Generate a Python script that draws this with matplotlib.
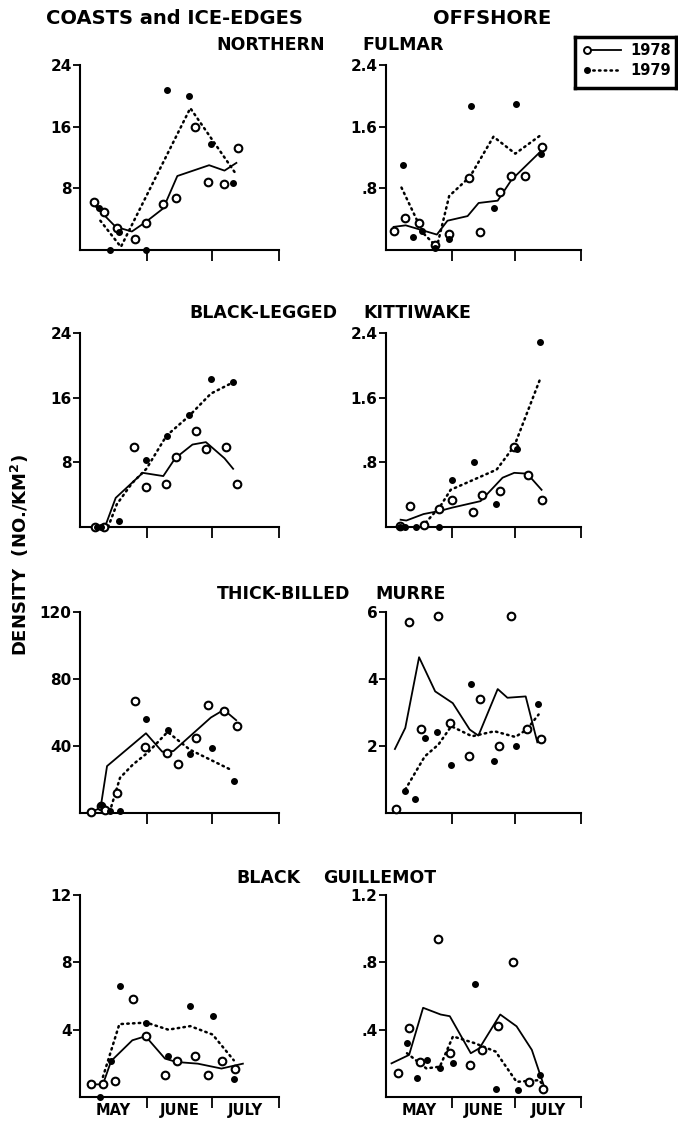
import matplotlib
matplotlib.use("Agg")
import matplotlib.pyplot as plt
from matplotlib.ticker import FixedLocator

plt.rcParams['font.family'] = ['DejaVu Sans']
plt.rcParams['font.weight'] = 'bold'

# x = days after 30 April; ticks mark 1 June, 1 July, 1 August
month_ticks = [31, 61, 92]
month_mid = [15.5, 46, 76.5]
month_names = ['MAY', 'JUNE', 'JULY']

# ---- NORTHERN FULMAR ----
fulmar_coast_78 = [(6.3, 6.2), (11, 4.9), (17.3, 2.9), (25.2, 1.4), (30.7, 3.5), (38.5, 6.0),
                   (44.5, 6.8), (53, 15.9), (59.4, 8.8), (66.4, 8.5), (73.1, 13.2)]
fulmar_coast_78_line = [(6, 6.0), (16.5, 3.0), (24, 2.4), (30.7, 3.7), (38.5, 5.4), (45, 9.6),
                        (59.7, 11.0), (66.8, 10.3), (72.3, 11.3)]
fulmar_coast_79 = [(9, 5.4), (13.7, 0), (18, 2.3), (30.7, 0), (40, 20.8), (50.3, 20.0),
                   (60.5, 13.8), (70.8, 8.7)]
fulmar_coast_79_line = [(9.4, 3.8), (18.9, 0.4), (51, 18.4), (72, 9.9)]

fulmar_off_78 = [(3.6, 0.25), (8.8, 0.42), (15.5, 0.35), (23.2, 0.06), (29.5, 0.21), (39.3, 0.93),
                 (44.2, 0.23), (53.8, 0.75), (58.8, 0.96), (65.8, 0.96), (73.6, 1.33)]
fulmar_off_78_line = [(3.6, 0.30), (9.3, 0.32), (16.7, 0.26), (24, 0.20), (29, 0.38), (38.5, 0.44),
                      (43.7, 0.61), (52.7, 0.64), (59.2, 0.91), (73, 1.28)]
fulmar_off_79 = [(7.9, 1.10), (12.8, 0.17), (17, 0.25), (23.2, 0.03), (29.8, 0.14), (40, 1.87),
                 (51, 0.55), (61.2, 1.90), (73.2, 1.25)]
fulmar_off_79_line = [(7.3, 0.81), (17.5, 0.22), (24, 0.04), (29.8, 0.70), (39.6, 0.95),
                      (50.7, 1.47), (61, 1.25), (73.5, 1.50)]

# ---- BLACK-LEGGED KITTIWAKE ----
kitti_coast_78 = [(6.8, 0), (11, 0), (24.8, 9.9), (30.3, 4.9), (39.6, 5.3), (44.3, 8.6),
                  (53.5, 11.9), (58.2, 9.7), (67.3, 9.9), (72.8, 5.3)]
kitti_coast_78_line = [(6.3, 0), (11.8, 0.2), (16.5, 3.6), (29, 6.7), (38.5, 6.3), (44, 8.5),
                       (52, 10.2), (58.2, 10.5), (66.8, 8.5), (70.8, 7.2)]
kitti_coast_79 = [(7.9, 0), (9.5, 0), (18, 0.8), (30.3, 8.3), (40, 11.3), (50.3, 13.9),
                  (60.5, 18.3), (70.8, 17.9)]
kitti_coast_79_line = [(13, 0), (17, 2.8), (24, 5.4), (30.7, 7.2), (40, 11.3), (50.3, 13.7),
                       (60.5, 16.5), (70.8, 17.9)]

kitti_off_78 = [(6.4, 0.01), (11.2, 0.26), (17.7, 0.03), (25.2, 0.22), (31.3, 0.34), (40.9, 0.19),
                (45.4, 0.40), (53.8, 0.45), (60.2, 0.99), (66.9, 0.64), (73.8, 0.34)]
kitti_off_78_line = [(6.9, 0.09), (9.6, 0.08), (17.7, 0.16), (25.5, 0.20), (31.3, 0.24),
                     (44.6, 0.32), (55, 0.61), (60.5, 0.67), (66.6, 0.66), (73.4, 0.46)]
kitti_off_79 = [(6.4, 0), (8.8, 0), (14, 0), (24.9, 0), (31.3, 0.58), (41.4, 0.80),
                (51.7, 0.28), (61.8, 0.96), (72.7, 2.29)]
kitti_off_79_line = [(16.9, 0), (25.7, 0.26), (30.5, 0.46), (52.2, 0.71), (60.5, 1.0), (72.7, 1.83)]

# ---- THICK-BILLED MURRE ----
murre_coast_78 = [(5.3, 0.6), (9.5, 4), (11.7, 2), (17, 12), (25.2, 67), (30.2, 39.4), (40, 35.6),
                  (45.5, 29.4), (53.5, 44.6), (59.4, 64.4), (66.8, 61), (72.5, 52)]
murre_coast_78_line = [(5, 0.6), (9.5, 3), (12.5, 28), (30.5, 47.6), (38, 36.6), (43.2, 37),
                       (60.5, 57), (66.5, 61.6), (72.2, 55.4)]
murre_coast_79 = [(9.5, 5), (14, 1.4), (18.5, 1.4), (30.5, 56), (40.5, 49.6), (50.8, 35.4),
                  (60.8, 38.6), (71.3, 19)]
murre_coast_79_line = [(13.7, 0.6), (18.5, 21), (24.5, 29), (31.3, 36), (40.5, 48.4),
                       (50.8, 37.8), (60.6, 31.6), (70.4, 25.4)]

murre_off_78 = [(4.5, 0.12), (10.8, 5.70), (16.4, 2.51), (24.7, 5.87), (30.3, 2.69), (39.1, 1.69),
                (44.4, 3.41), (53.2, 1.99), (59.2, 5.87), (66.4, 2.51), (73.2, 2.22)]
murre_off_78_line = [(4.2, 1.91), (9.1, 2.54), (15.6, 4.65), (23.2, 3.63), (31.5, 3.28),
                     (39.5, 2.49), (43.6, 2.31), (52.7, 3.70), (57.3, 3.44), (65.9, 3.48),
                     (71.4, 2.11)]
murre_off_79 = [(9.1, 0.67), (13.6, 0.43), (18.3, 2.24), (24.2, 2.41), (30.8, 1.42),
                (40.3, 3.86), (50.9, 1.54), (61.4, 1.99), (71.7, 3.25)]
murre_off_79_line = [(9.1, 0.70), (18.3, 1.69), (24.7, 2.04), (30.8, 2.59), (40.6, 2.29),
                     (51.2, 2.44), (61, 2.27), (66.4, 2.49), (72, 2.94)]

# ---- BLACK GUILLEMOT ----
guill_coast_78 = [(5.3, 0.75), (10.6, 0.75), (16.3, 0.95), (24.5, 5.85), (30.3, 3.61), (39.3, 1.33),
                  (44.9, 2.14), (53.3, 2.42), (59, 1.33), (65.8, 2.14), (71.6, 1.65)]
guill_coast_78_line = [(5.3, 0.75), (10.6, 0.75), (14.4, 2.14), (24.2, 3.37), (30.3, 3.61),
                       (39.3, 2.28), (44.6, 2.08), (54.5, 1.98), (65.4, 1.69), (75.3, 1.98)]
guill_coast_79 = [(9.4, 0), (14.4, 2.14), (18.5, 6.59), (30.7, 4.40), (40.8, 2.44), (51, 5.42),
                  (61.3, 4.84), (71.4, 1.05)]
guill_coast_79_line = [(10.6, 1.19), (18.2, 4.33), (30.7, 4.42), (40.8, 4.0), (51, 4.21),
                       (61.3, 3.71), (71.1, 2.18)]

guill_off_78 = [(5.6, 0.14), (10.9, 0.41), (16, 0.21), (24.6, 0.94), (30.4, 0.26), (39.5, 0.19),
                (45.3, 0.28), (52.9, 0.42), (60, 0.80), (67.3, 0.09), (74, 0.05)]
guill_off_78_line = [(2.6, 0.20), (10.9, 0.25), (17.5, 0.53), (25.8, 0.49), (30.1, 0.48),
                     (40, 0.26), (44.1, 0.29), (53.9, 0.49), (61.6, 0.42), (68.8, 0.28),
                     (75.2, 0.04)]
guill_off_79 = [(9.9, 0.32), (14.4, 0.11), (19.3, 0.22), (25.4, 0.17), (31.6, 0.20),
                (41.8, 0.67), (52, 0.05), (62.3, 0.04), (72.6, 0.13)]
guill_off_79_line = [(9.9, 0.26), (19, 0.17), (25.4, 0.18), (31.6, 0.36), (41.8, 0.32),
                     (51.7, 0.27), (61.6, 0.09), (72.2, 0.10), (74.9, 0.06)]

coast_ticks = [[8, 16, 24], [8, 16, 24], [40, 80, 120], [4, 8, 12]]
coast_labels = [['8', '16', '24'], ['8', '16', '24'], ['40', '80', '120'], ['4', '8', '12']]
off_ticks = [[0.8, 1.6, 2.4], [0.8, 1.6, 2.4], [2, 4, 6], [0.4, 0.8, 1.2]]
off_labels = [['.8', '1.6', '2.4'], ['.8', '1.6', '2.4'], ['2', '4', '6'], ['.4', '.8', '1.2']]

W, H = 678, 1125
fig = plt.figure(figsize=(W / 100, H / 100), dpi=100)

rows = [(65, 250), (333, 527), (612, 813), (895, 1097)]
left_x, left_w = 80, 199
right_x, right_w = 386, 195


def make_ax(x0, w, top, bottom):
    return fig.add_axes([x0 / W, 1 - bottom / H, w / W, (bottom - top) / H])


def draw(ax, pts78, line78, pts79, line79, ticks, labels, bottom_row):
    ax.plot(*zip(*line78), color='k', lw=1.3)
    ax.plot(*zip(*line79), color='k', lw=1.8, linestyle=(0, (0.6, 1.7)),
            dash_capstyle='round')
    ax.plot(*zip(*pts78), ls='none', marker='o', ms=5.5, mfc='white', mec='k', mew=1.5,
            clip_on=False, zorder=4)
    ax.plot(*zip(*pts79), ls='none', marker='o', ms=4.0, mfc='k', mec='k',
            clip_on=False, zorder=5)
    ax.set_xlim(0, 92)
    ax.set_ylim(0, ticks[-1])
    for s in ('top', 'right'):
        ax.spines[s].set_visible(False)
    for s in ('left', 'bottom'):
        ax.spines[s].set_linewidth(1.5)
    ax.set_yticks(ticks)
    ax.set_yticklabels(labels, fontsize=11, fontweight='bold')
    ax.tick_params(axis='y', direction='out', length=5, width=1.3, pad=1)
    ax.set_xticks(month_ticks)
    ax.set_xticklabels([])
    ax.tick_params(axis='x', which='major', direction='out', length=8, width=1.3)
    if bottom_row:
        ax.xaxis.set_minor_locator(FixedLocator(month_mid))
        ax.set_xticklabels(month_names, minor=True, fontsize=10.5, fontweight='bold')
        ax.tick_params(axis='x', which='minor', length=0, pad=4)


panels = [
    (fulmar_coast_78, fulmar_coast_78_line, fulmar_coast_79, fulmar_coast_79_line,
     fulmar_off_78, fulmar_off_78_line, fulmar_off_79, fulmar_off_79_line),
    (kitti_coast_78, kitti_coast_78_line, kitti_coast_79, kitti_coast_79_line,
     kitti_off_78, kitti_off_78_line, kitti_off_79, kitti_off_79_line),
    (murre_coast_78, murre_coast_78_line, murre_coast_79, murre_coast_79_line,
     murre_off_78, murre_off_78_line, murre_off_79, murre_off_79_line),
    (guill_coast_78, guill_coast_78_line, guill_coast_79, guill_coast_79_line,
     guill_off_78, guill_off_78_line, guill_off_79, guill_off_79_line),
]

for i, (top, bottom) in enumerate(rows):
    p = panels[i]
    axl = make_ax(left_x, left_w, top, bottom)
    draw(axl, p[0], p[1], p[2], p[3], coast_ticks[i], coast_labels[i], i == 3)
    axr = make_ax(right_x, right_w, top, bottom)
    draw(axr, p[4], p[5], p[6], p[7], off_ticks[i], off_labels[i], i == 3)

# column headers
fig.text(174 / W, 1 - 18 / H, 'COASTS and ICE-EDGES', ha='center', va='center',
         fontsize=14, fontweight='bold')
fig.text(492 / W, 1 - 18 / H, 'OFFSHORE', ha='center', va='center',
         fontsize=14, fontweight='bold')

# species titles: (first word, its right edge, second word, its left edge, y)
species = [('NORTHERN', 325, 'FULMAR', 362, 45),
           ('BLACK-LEGGED', 337, 'KITTIWAKE', 363, 313),
           ('THICK-BILLED', 350, 'MURRE', 375, 594),
           ('BLACK', 300, 'GUILLEMOT', 323, 878)]
for w1, x1, w2, x2, y in species:
    fig.text(x1 / W, 1 - y / H, w1, ha='right', va='center', fontsize=12.5, fontweight='bold')
    fig.text(x2 / W, 1 - y / H, w2, ha='left', va='center', fontsize=12.5, fontweight='bold')

fig.text(20 / W, 1 - 555 / H, r'DENSITY  (NO./KM$^{\mathbf{2}}$)', rotation=90,
         ha='center', va='center', fontsize=13, fontweight='bold')

# legend box
lax = fig.add_axes([575 / W, 1 - 88 / H, 101 / W, 51 / H])
lax.set_xlim(0, 1)
lax.set_ylim(0, 1)
lax.set_xticks([])
lax.set_yticks([])
for s in lax.spines.values():
    s.set_linewidth(2.5)
lax.plot([0.12, 0.46], [0.74, 0.74], color='k', lw=1.3)
lax.plot([0.12], [0.74], ls='none', marker='o', ms=5, mfc='white', mec='k', mew=1.4)
lax.plot([0.12, 0.46], [0.35, 0.35], color='k', lw=1.8, linestyle=(0, (0.6, 1.7)),
         dash_capstyle='round')
lax.plot([0.12], [0.35], ls='none', marker='o', ms=4, mfc='k', mec='k')
lax.text(0.55, 0.74, '1978', ha='left', va='center', fontsize=10.5, fontweight='bold')
lax.text(0.55, 0.35, '1979', ha='left', va='center', fontsize=10.5, fontweight='bold')

fig.savefig('out.png', dpi=100)
